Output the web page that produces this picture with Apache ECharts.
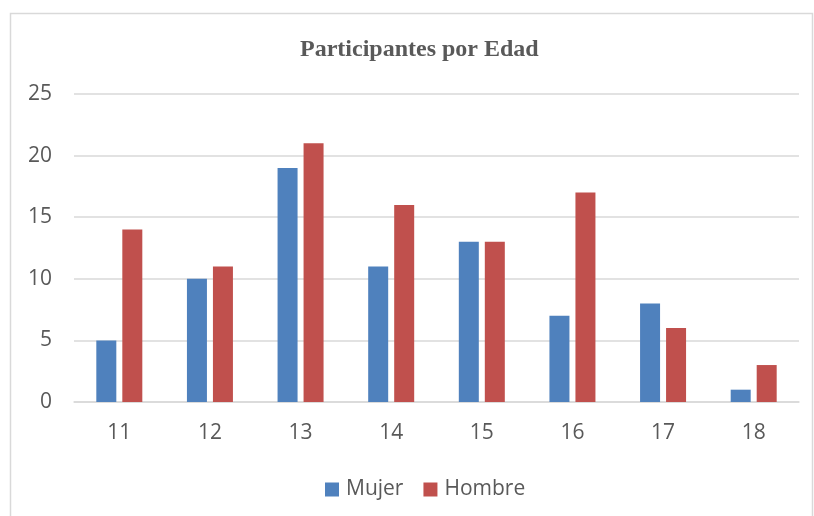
<!DOCTYPE html>
<html lang="es">
<head>
<meta charset="utf-8" />
<title>Participantes por Edad</title>
<script src="https://cdn.jsdelivr.net/npm/echarts@6/dist/echarts.min.js"></script>
<style>
  html, body { margin: 0; padding: 0; background: #fff; }
</style>
</head>
<body>
<div id="main" style="width: 814px;height:516px;"></div>
<script>
    var edades = ['11', '12', '13', '14', '15', '16', '17', '18'];
    var mujer = [5, 10, 19, 11, 13, 7, 8, 1];
    var hombre = [14, 11, 21, 16, 13, 17, 6, 3];

    var myChart = echarts.init(document.getElementById('main'));

    var labelFont = '"Open Sans", "DejaVu Sans", sans-serif';

    var option = {
        animation: false,
        backgroundColor: '#fff',
        graphic: [{
            type: 'rect',
            shape: { x: 10.5, y: 13.5, width: 802, height: 520 },
            style: { fill: 'none', stroke: '#d9d9d9', lineWidth: 1.5 },
            silent: true
        }],
        title: {
            text: 'Participantes por Edad',
            left: 300,
            top: 38,
            padding: 0,
            textStyle: {
                fontFamily: '"Liberation Serif", "Times New Roman", serif',
                fontWeight: 'bold',
                fontSize: 24,
                color: '#595959'
            }
        },
        legend: {
            top: 474,
            left: 320,
            itemWidth: 14,
            itemHeight: 14,
            itemGap: 20,
            icon: 'rect',
            textStyle: {
                fontFamily: labelFont,
                fontSize: 21,
                color: '#595959',
                padding: [0, 0, 0, 2]
            },
            data: ['Mujer', 'Hombre']
        },
        grid: {
            left: 74,
            right: 15,
            top: 94,
            bottom: 114
        },
        xAxis: {
            type: 'category',
            data: edades,
            axisTick: { show: false },
            axisLine: { lineStyle: { color: '#d9d9d9', width: 1.5 } },
            axisLabel: {
                margin: 21,
                fontFamily: labelFont,
                fontSize: 21,
                color: '#595959'
            }
        },
        yAxis: {
            type: 'value',
            min: 0,
            max: 25,
            interval: 5,
            axisLine: { show: false },
            axisTick: { show: false },
            splitLine: { lineStyle: { color: '#d9d9d9', width: 1.5 } },
            axisLabel: {
                margin: 22,
                fontFamily: labelFont,
                fontSize: 21,
                color: '#595959'
            }
        },
        series: [{
            name: 'Mujer',
            type: 'bar',
            data: mujer,
            barWidth: 20,
            barGap: '30%',
            itemStyle: { color: '#4f81bd' }
        }, {
            name: 'Hombre',
            type: 'bar',
            data: hombre,
            barWidth: 20,
            itemStyle: { color: '#c0504d' }
        }]
    };

    myChart.setOption(option);
</script>
</body>
</html>
